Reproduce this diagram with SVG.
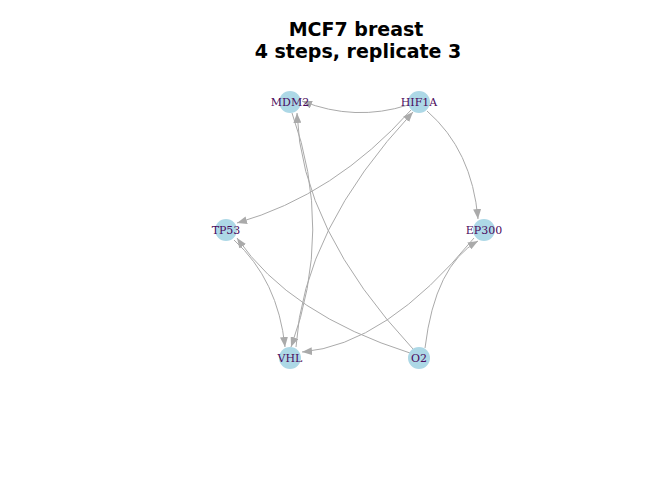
<svg xmlns="http://www.w3.org/2000/svg" width="672" height="480" viewBox="0 0 672 480">
<defs>
<marker id="ah" viewBox="0 0 10 8" refX="10" refY="4" markerWidth="10" markerHeight="8" markerUnits="userSpaceOnUse" orient="auto">
<path d="M0,0 L10,4 L0,8 Z" fill="#aaaaaa"/>
</marker>
<style>
.e{fill:none;stroke:#aaaaaa;stroke-width:1;marker-end:url(#ah)}
.n circle{fill:#add8e6}
.n text{font-family:"DejaVu Serif","Liberation Serif",serif;font-size:11px;fill:#4b0a5c;text-anchor:middle;dominant-baseline:central}
.t{font-family:"DejaVu Sans","Liberation Sans",sans-serif;font-size:19px;font-weight:bold;text-anchor:middle;fill:#000}
</style>
</defs>
<rect width="672" height="480" fill="#ffffff"/>
<text class="t" x="356" y="36">MCF7 breast</text>
<text class="t" x="358" y="58">4 steps, replicate 3</text>
<g id="edges">
<path class="e" d="M408,105 Q355,122 302,101"/>
<path class="e" d="M411,110 Q335,195 237,223"/>
<path class="e" d="M427,111 Q472,150 478,219"/>
<path class="e" d="M296,347 Q303,230 413,112"/>
<path class="e" d="M292,113 Q334,230 291,347"/>
<path class="e" d="M413,349 Q301,229 297,113"/>
<path class="e" d="M234,240 Q278,280 285,347"/>
<path class="e" d="M410,353 Q290,315 237,238"/>
<path class="e" d="M474,238 Q386,345 302,352"/>
<path class="e" d="M425,348 Q435,265 478,241"/>
</g>
<g id="MDM2" class="n"><circle cx="290" cy="102" r="11"/><text x="290" y="102">MDM2</text></g>
<g id="HIF1A" class="n"><circle cx="419" cy="102" r="11"/><text x="419" y="102">HIF1A</text></g>
<g id="TP53" class="n"><circle cx="226" cy="230" r="11"/><text x="226" y="230">TP53</text></g>
<g id="EP300" class="n"><circle cx="484" cy="230" r="11"/><text x="484" y="230">EP300</text></g>
<g id="VHL" class="n"><circle cx="290" cy="358" r="11"/><text x="290" y="358">VHL</text></g>
<g id="O2" class="n"><circle cx="419" cy="358" r="11"/><text x="419" y="358">O2</text></g>
</svg>
